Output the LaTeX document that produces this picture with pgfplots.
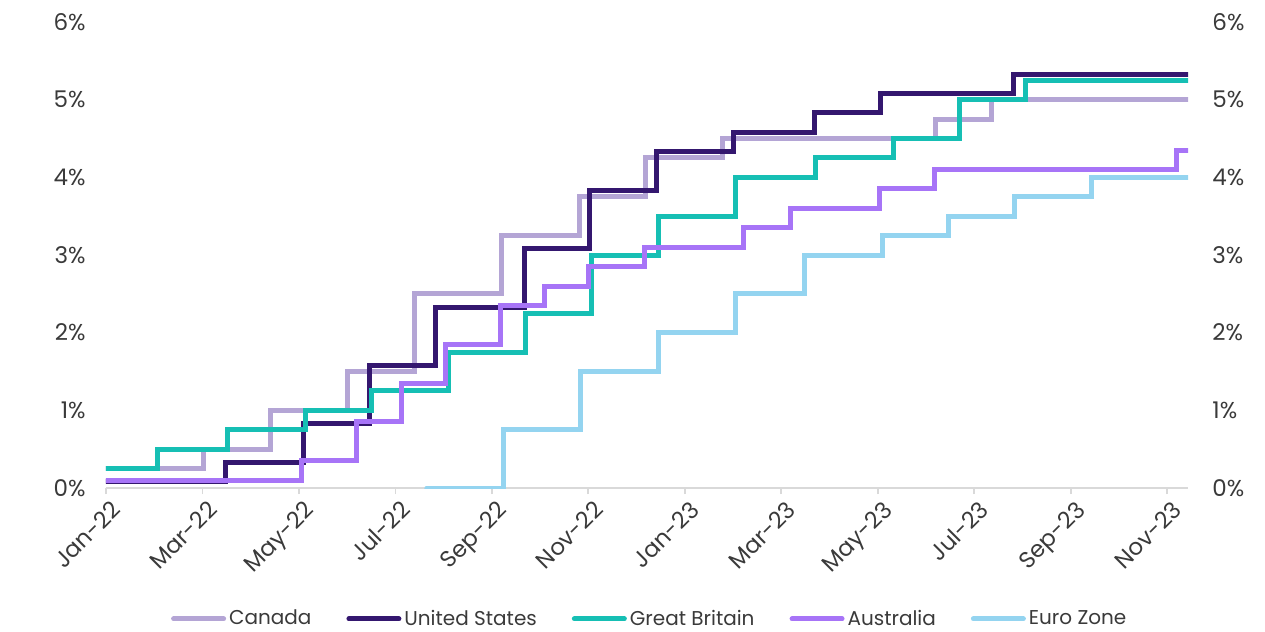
\documentclass[border=0pt]{standalone}
\usepackage{fontspec}
\setmainfont{Poppins}
\usepackage{pgfplots}
\pgfplotsset{compat=1.18}

\definecolor{canada}{HTML}{B4A5D5}
\definecolor{usa}{HTML}{34176F}
\definecolor{gbr}{HTML}{16BFB4}
\definecolor{aus}{HTML}{A774F7}
\definecolor{euro}{HTML}{94D4F0}
\definecolor{txt}{HTML}{3A3A3A}
\definecolor{axisgray}{HTML}{D9D9D9}

% Policy rates; x = months since 1 Jan 2022 (fraction of month = day offset)
\pgfplotstableread{
x y
0     0.25
2.03  0.50
3.40  1.00
5.00  1.50
6.39  2.50
8.20  3.25
9.81  3.75
11.19 4.25
12.77 4.50
17.20 4.75
18.35 5.00
22.43 5.00
}\canadatab

\pgfplotstableread{
x y
0     0.08
2.48  0.33
4.10  0.83
5.47  1.58
6.84  2.33
8.67  3.08
10.03 3.83
11.42 4.33
13.00 4.58
14.68 4.83
16.06 5.08
18.81 5.33
22.43 5.33
}\usatab

\pgfplotstableread{
x y
0     0.25
1.07  0.50
2.52  0.75
4.13  1.00
5.50  1.25
7.10  1.75
8.70  2.25
10.07 3.00
11.45 3.50
13.04 4.00
14.71 4.25
16.32 4.50
17.70 5.00
19.06 5.25
22.43 5.25
}\gbrtab

\pgfplotstableread{
x y
0     0.10
4.06  0.35
5.20  0.85
6.13  1.35
7.03  1.85
8.17  2.35
9.10  2.60
10.00 2.85
11.16 3.10
13.21 3.35
14.19 3.60
16.03 3.85
17.17 4.10
22.20 4.35
22.43 4.35
}\austab

\pgfplotstableread{
x y
6.65  0.00
8.23  0.75
9.84  1.50
11.45 2.00
13.04 2.50
14.48 3.00
16.10 3.25
17.47 3.50
18.84 3.75
20.43 4.00
22.43 4.00
}\eurotab

\pgfplotsset{
  rateaxis/.style={
    at={(0,0)}, anchor=south west,
    scale only axis, width=541pt, height=233pt,
    xmin=0, xmax=22.43, ymin=0, ymax=6,
    ytick={0,1,...,6},
    yticklabel={\pgfmathprintnumber[assume math mode=true]{\tick}\%},
    ytick style={draw=none},
    y axis line style={draw=none},
    tick label style={font=\fontsize{11.5}{13}\selectfont, text=txt},
  },
}

\begin{document}
\begin{tikzpicture}
\begin{axis}[
  rateaxis,
  axis x line*=bottom, axis y line*=left,
  x axis line style={draw=axisgray, line width=0.9pt, -},
  xtick={0,2,...,22},
  xticklabels={Jan-22,Mar-22,May-22,Jul-22,Sep-22,Nov-22,Jan-23,Mar-23,May-23,Jul-23,Sep-23,Nov-23},
  xtick style={draw=axisgray, line width=0.9pt},
  tick align=outside, major tick length=3pt,
  xticklabel style={xshift=2pt, yshift=-2.5pt, rotate=45, anchor=north east, inner sep=0pt},
  yticklabel style={anchor=east, inner sep=0pt, xshift=-7pt},
  legend columns=-1,
  legend style={at={(0.503,-0.281)}, anchor=center, draw=none, fill=none,
    font=\fontsize{10}{12}\selectfont, text=txt,
    nodes={inner sep=1.5pt},
    /tikz/every even column/.append style={column sep=16pt}},
  legend image code/.code={\draw[#1, line width=2.5pt, line cap=round] (0pt,0pt) -- (25pt,0pt);},
  every axis plot/.append style={const plot, no marks, line width=2.5pt, line cap=round},
]
\addplot[canada] table {\canadatab};
\addlegendentry{Canada}
\addplot[usa] table {\usatab};
\addlegendentry{United States}
\addplot[gbr] table {\gbrtab};
\addlegendentry{Great Britain}
\addplot[aus] table {\austab};
\addlegendentry{Australia}
\addplot[euro] table {\eurotab};
\addlegendentry{Euro Zone}
\end{axis}
% mirrored percentage scale on the right
\begin{axis}[
  rateaxis,
  axis x line=none, axis y line*=right,
  yticklabel style={anchor=west, inner sep=0pt, xshift=12pt},
]
\end{axis}
\pgfresetboundingbox
\path[use as bounding box] (-53pt,-72pt) rectangle (579.5pt,244pt);
\end{tikzpicture}
\end{document}
